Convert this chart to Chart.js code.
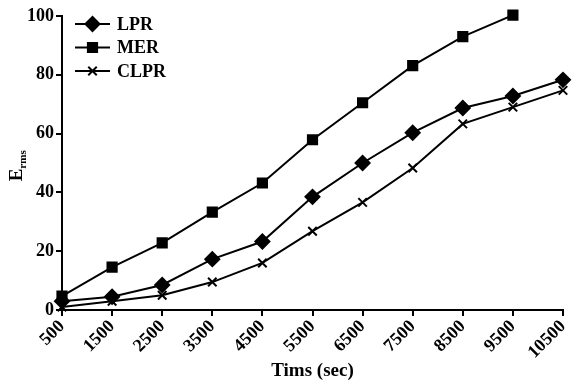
<!DOCTYPE html>
<html>
<head>
<meta charset="utf-8">
<script src="https://cdn.jsdelivr.net/npm/chart.js@4/dist/chart.umd.min.js"></script>
<style>
  html, body { margin: 0; padding: 0; background: #fff; }
  #wrap { width: 574px; height: 383px; position: relative; }
</style>
</head>
<body>
<div id="wrap"><canvas id="chart"></canvas></div>
<script>
// Chart data
const timeLabels = ['500', '1500', '2500', '3500', '4500', '5500', '6500', '7500', '8500', '9500', '10500'];
const lprValues = [3, 4.5, 8.5, 17.3, 23.3, 38.5, 50, 60.3, 68.7, 72.8, 78.3];
const merValues = [4.7, 14.6, 22.8, 33.3, 43.2, 57.9, 70.5, 83.1, 93, 100.3];
const clprValues = [1, 3, 5, 9.5, 16, 26.8, 36.6, 48.3, 63.3, 69, 74.7];
const seriesNames = ['LPR', 'MER', 'CLPR'];

const FONT = "'Liberation Serif', 'Times New Roman', serif";

// Legend drawn inside the plot area (line + marker + label)
const innerLegend = {
    id: 'innerLegend',
    afterDraw(chart) {
        const ctx = chart.ctx;
        const area = chart.chartArea;
        ctx.save();
        chart.data.datasets.forEach((ds, i) => {
            const y = area.top + 8 + i * 23.5;
            const x0 = area.left + 13;
            ctx.strokeStyle = '#000';
            ctx.lineWidth = 2;
            ctx.beginPath();
            ctx.moveTo(x0, y);
            ctx.lineTo(x0 + 35, y);
            ctx.stroke();
            Chart.helpers.drawPoint(ctx, {
                pointStyle: ds.pointStyle,
                radius: ds.pointRadius,
                borderWidth: ds.pointBorderWidth || 2
            }, x0 + 17.5, y);
            ctx.fillStyle = '#000';
            ctx.font = 'bold 18px ' + FONT;
            ctx.textAlign = 'left';
            ctx.textBaseline = 'middle';
            ctx.fillText(ds.label, x0 + 42, y + 1);
        });
        ctx.restore();
    }
};

// Y axis title with subscript: E_rms
const yTitle = {
    id: 'yTitle',
    afterDraw(chart) {
        const ctx = chart.ctx;
        ctx.save();
        ctx.translate(22, 172);
        ctx.rotate(-Math.PI / 2);
        ctx.fillStyle = '#000';
        ctx.textBaseline = 'alphabetic';
        ctx.textAlign = 'left';
        ctx.font = 'bold 19px ' + FONT;
        const w = ctx.measureText('E').width;
        ctx.fillText('E', -w / 2 - 3, 0);
        ctx.font = 'bold 11px ' + FONT;
        ctx.fillText('rms', w / 2 - 3, 4);
        ctx.restore();
    }
};

const common = {
    borderColor: '#000',
    backgroundColor: '#000',
    borderWidth: 2,
    pointBorderWidth: 2,
    pointBorderColor: '#000',
    pointBackgroundColor: '#000',
    tension: 0,
    clip: false
};

new Chart(document.getElementById('chart'), {
    type: 'line',
    data: {
        labels: timeLabels,
        datasets: [
            Object.assign({ label: seriesNames[0], data: lprValues, pointStyle: 'rectRot', pointRadius: 7 }, common),
            Object.assign({ label: seriesNames[1], data: merValues, pointStyle: 'rect', pointRadius: 6.5 }, common),
            Object.assign({ label: seriesNames[2], data: clprValues, pointStyle: 'crossRot', pointRadius: 6 }, common)
        ]
    },
    options: {
        responsive: true,
        maintainAspectRatio: false,
        animation: false,
        layout: { padding: { top: 16, right: 11, left: 0, bottom: 0 } },
        plugins: {
            legend: { display: false },
            tooltip: { enabled: false }
        },
        scales: {
            x: {
                type: 'category',
                offset: false,
                border: { color: '#000', width: 2 },
                grid: { display: true, drawOnChartArea: false, drawTicks: true, tickLength: 6, color: '#000', lineWidth: 2 },
                ticks: {
                    color: '#000',
                    font: { family: FONT, size: 18, weight: 'bold' },
                    minRotation: 45,
                    maxRotation: 45,
                    autoSkip: false,
                    padding: 0
                },
                title: {
                    display: true,
                    text: 'Tims (sec)',
                    color: '#000',
                    font: { family: FONT, size: 19, weight: 'bold' },
                    padding: { top: 0, bottom: 1 }
                },
                afterFit: s => { s.height = 73; s.paddingRight = 0; s.paddingLeft = 0; }
            },
            y: {
                min: 0,
                max: 100,
                border: { color: '#000', width: 2 },
                grid: { display: true, drawOnChartArea: false, drawTicks: true, tickLength: 6, color: '#000', lineWidth: 2 },
                ticks: {
                    stepSize: 20,
                    color: '#000',
                    font: { family: FONT, size: 18, weight: 'bold' },
                    padding: 2
                },
                afterFit: s => { s.width = 62; s.paddingTop = 0; s.paddingBottom = 0; }
            }
        }
    },
    plugins: [innerLegend, yTitle]
});
</script>
</body>
</html>
